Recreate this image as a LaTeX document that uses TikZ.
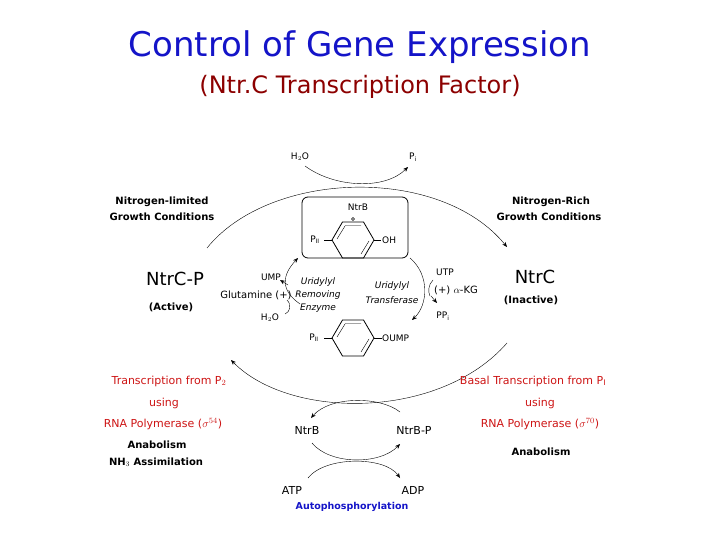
\documentclass[tikz,border=0pt]{standalone}
\usepackage{fontspec}
\setmainfont{DejaVu Sans}
\usetikzlibrary{arrows.meta}
\definecolor{tblue}{RGB}{20,20,200}
\definecolor{tred}{RGB}{140,0,0}
\definecolor{lred}{RGB}{205,20,20}
\begin{document}
\begin{tikzpicture}[x=1pt,y=-1pt,
  lbl/.style={inner sep=0pt,font=\fontsize{11}{12}\selectfont},
  sm/.style={inner sep=0pt,font=\fontsize{9}{10}\selectfont},
  it/.style={inner sep=0pt,font=\fontsize{9}{10}\selectfont\itshape},
  bl/.style={inner sep=0pt,font=\fontsize{10}{11}\selectfont\bfseries},
  big/.style={inner sep=0pt,font=\fontsize{18}{20}\selectfont},
  red/.style={lbl,text=lred},
  arr/.style={-{Stealth[length=5pt,width=4pt]},thin},
  ring/.style={thick}]
\useasboundingbox (0,0) rectangle (720,540);
\node[inner sep=0pt,text=tblue,font=\fontsize{34}{38}\selectfont] (t1) at (360,47) {Control of Gene Expression};
\node[inner sep=0pt,text=tred,font=\fontsize{24}{28}\selectfont] (t2) at (360,87) {(Ntr.C Transcription Factor)};
% big arcs
\coordinate (a1) at (207,248); \coordinate (a2) at (507,247);
\draw[arr] (a1) .. controls (270,170) and (440,165) .. (a2);
\coordinate (b1) at (507,343); \coordinate (b2) at (231,360);
\draw[arr] (b1) .. controls (440,420) and (290,420) .. (b2);
% H2O Pi
\node[sm] (h2o) at (300,157) {H$_2$O};
\node[sm] (pi) at (413,157) {P$_\mathrm{i}$};
\draw[arr] (305,166) .. controls (335,188) and (385,190) .. (408,167);
% box
\node[draw,thick,rounded corners=6pt,minimum width=106pt,minimum height=61pt] (box) at (355,227.5) {};
\node[sm] (ntrbtop) at (358,207) {NtrB};
\foreach \cx/\cy [count=\i] in {353/240,353/338}{
  \begin{scope}[shift={(\cx,\cy)}]
  \draw[ring] (-21,0)--(-10.5,-18)--(10.5,-18)--(21,0)--(10.5,18)--(-10.5,18)--cycle;
  \draw (-16,-1)--(-8,-14) (8,-14.5)--(-8,-14.5) (16,1)--(8,14);
  \end{scope}}
\draw (353,219) circle (1.5);
\draw[thick] (332,240)--(324,240) (374,240)--(381,240);
\draw[thick] (332,338)--(324,338) (374,338)--(382,338);
\node[sm] (p1) at (315,240) {P$_\mathrm{II}$};
\node[sm,anchor=west] (oh) at (382,240) {OH};
\node[sm] (p2) at (314,338) {P$_\mathrm{II}$};
\node[sm,anchor=west] (oump) at (382,338) {OUMP};
% inner arcs
\draw[arr] (300,304) .. controls (280,290) and (282,275) .. (298,258);
\draw[arr] (410,258) .. controls (430,275) and (428,305) .. (412,320);
\draw[arr] (288,285) -- (280,280);
\draw (287,300) .. controls (292,305) and (290,312) .. (285,314);
\draw (433,280) .. controls (428,285) and (428,292) .. (430,296);
\draw[arr] (431,296) -- (437,303);
\node[sm] (ump) at (271,277) {UMP};
\node[lbl,font=\fontsize{10}{11}\selectfont] (glu) at (256,295) {Glutamine (+)};
\node[sm] (h2ob) at (270,318) {H$_2$O};
\node[it] (ure1) at (318,282) {Uridylyl};
\node[it] (ure2) at (318,295) {Removing};
\node[it] (ure3) at (318,308) {Enzyme};
\node[it] (ut1) at (392,286) {Uridylyl};
\node[it] (ut2) at (392,300) {Transferase};
\node[sm] (utp) at (445,272) {UTP};
\node[lbl,font=\fontsize{10}{11}\selectfont] (akg) at (456,290) {(+) $\alpha$-KG};
\node[sm] (ppi) at (443,316) {PP$_\mathrm{i}$};
% side labels
\node[bl] (nl1) at (162,202) {Nitrogen-limited};
\node[bl] (nl2) at (162,217) {Growth Conditions};
\node[bl] (nr1) at (551,202) {Nitrogen-Rich};
\node[bl] (nr2) at (549,217) {Growth Conditions};
\node[big] (ntrcp) at (175,279) {NtrC-P};
\node[bl] (act) at (171,307) {(Active)};
\node[big] (ntrc) at (535,277) {NtrC};
\node[bl] (inact) at (531,300) {(Inactive)};
% bottom-left
\node[red] (r1) at (169,381) {Transcription from P$_2$};
\node[red] (r2) at (164,403) {using};
\node[red] (r3) at (163,424) {RNA Polymerase ($\sigma^{54}$)};
\node[bl] (an1) at (157,445) {Anabolism};
\node[bl] (nh3) at (156,462) {NH$_3$ Assimilation};
\node[red] (r4) at (533,381) {Basal Transcription from P$_\mathrm{I}$};
\node[red] (r5) at (540,403) {using};
\node[red] (r6) at (540,424) {RNA Polymerase ($\sigma^{70}$)};
\node[bl] (an2) at (541,452) {Anabolism};
% bottom cycle
\node[lbl] (ntrb) at (307,430) {NtrB};
\node[lbl] (ntrbp) at (414,430) {NtrB-P};
\node[lbl] (atp) at (292,490) {ATP};
\node[lbl] (adp) at (413,490) {ADP};
\node[inner sep=0pt,text=tblue,font=\fontsize{9.5}{11}\selectfont\bfseries] (auto) at (352,507) {Autophosphorylation};
\draw[arr] (400,412) .. controls (380,396) and (330,396) .. (311,418);
\draw[arr] (312,443) .. controls (330,465) and (380,465) .. (400,444);
\draw[arr] (308,478) .. controls (325,456) and (385,456) .. (400,478);
\end{tikzpicture}
\end{document}
